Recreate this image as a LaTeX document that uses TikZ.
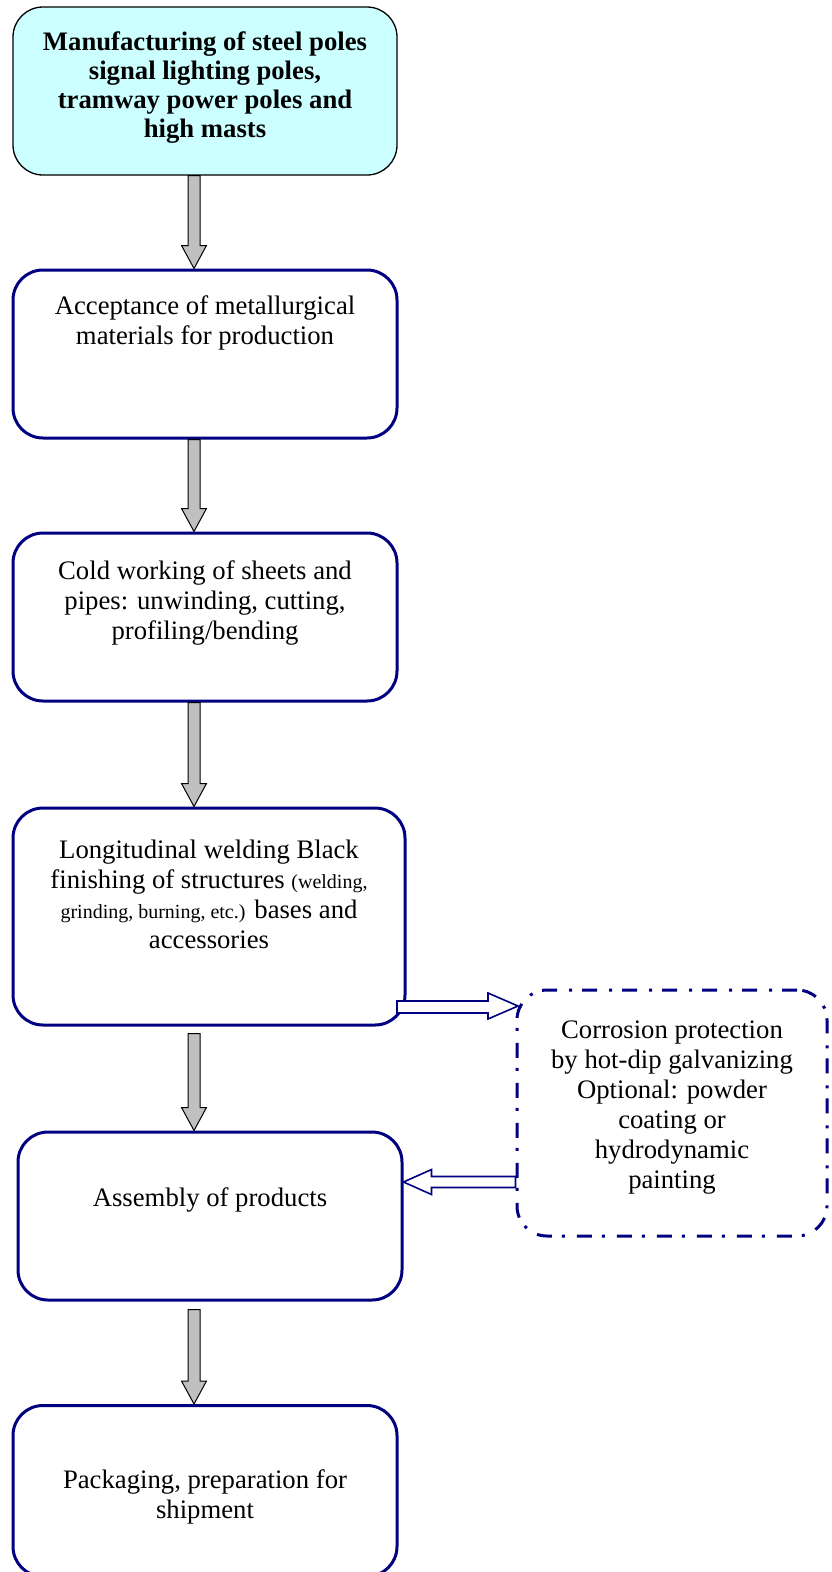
\documentclass[tikz,border=0pt]{standalone}
\usepackage{fontspec}
\setmainfont{Liberation Serif}
\usetikzlibrary{calc}
\definecolor{navyb}{HTML}{000080}
\definecolor{cyanfill}{HTML}{CCFFFF}
\definecolor{arrowgray}{HTML}{C0C0C0}
\begin{document}
\begin{tikzpicture}[x=1pt,y=-1pt,
  stepbox/.style={draw=navyb,line width=3pt,rounded corners=30pt,minimum width=384pt,minimum height=168pt,inner sep=0pt},
  topbox/.style={draw=black,line width=1.3pt,fill=cyanfill,rounded corners=30pt,minimum width=384pt,minimum height=168pt,inner sep=0pt},
  corrbox/.style={draw=navyb,line width=3pt,rounded corners=30pt,minimum width=310pt,minimum height=246pt,inner sep=0pt,
    dash pattern=on 15pt off 10pt on 3pt off 12pt},
  txt/.style={align=center,font=\fontsize{26.7}{30}\selectfont,inner sep=0pt},
  garrow/.style={draw=black,line width=1pt,fill=arrowgray,line join=miter},
  oarrow/.style={draw=navyb,line width=1.6pt,fill=white,line join=miter}
]
\useasboundingbox (0,0) rectangle (831,1572);
\coordinate (ax) at (194,0);

\node[topbox] (b1) at (205,91) {};
\node[stepbox] (b2) at (205,354) {};
\node[stepbox] (b3) at (205,617) {};
\node[stepbox,minimum width=392pt,minimum height=217pt] (b4) at (209,916.5) {};
\node[stepbox] (b5) at (210,1216) {};
\node[stepbox,minimum height=171pt] (b6) at (205,1491) {};
\node[corrbox] (c) at (672,1113) {};

\node[txt,font=\fontsize{26.7}{29}\selectfont\bfseries] (t1) at (205,88) {Manufacturing of steel poles\\signal lighting poles,\\tramway power poles and\\high masts};
\node[txt] (t2) at (205,323) {Acceptance of metallurgical\\materials for production};
\node[txt] (t3) at (205,603) {Cold working of sheets and\\pipes: unwinding, cutting,\\profiling/bending};
\node[txt] (t4) at (209,894) {Longitudinal welding Black\\finishing of structures {\fontsize{20}{30}\selectfont(welding,}\\{\fontsize{20}{30}\selectfont grinding, burning, etc.)} bases and\\accessories};
\node[txt] (t5) at (210,1200) {Assembly of products};
\node[txt] (t6) at (205,1497) {Packaging, preparation for\\shipment};
\node[txt] (tc) at (672,1108) {Corrosion protection\\by hot-dip galvanizing\\Optional: powder\\coating or\\hydrodynamic\\painting};

% gray block arrows
\newcommand{\grayarrow}[3]{%
  \draw[garrow] let \p1=(#1.south -| ax), \p2=(#2.north -| ax) in
    (\x1-6pt,\y1-#3) -- (\x1+6pt,\y1-#3) -- (\x1+6pt,\y2+23pt) -- (\x1+12.5pt,\y2+23pt)
    -- (\x2,\y2) -- (\x1-12.5pt,\y2+23pt) -- (\x1-6pt,\y2+23pt) -- cycle;}
\grayarrow{b1}{b2}{0pt}
\grayarrow{b2}{b3}{0pt}
\grayarrow{b3}{b4}{0pt}
\grayarrow{b4}{b5}{7pt}
\grayarrow{b5}{b6}{8pt}

% open arrows
\coordinate (ra) at (397,1007);
\coordinate (rb) at (518,1006);
\draw[oarrow] let \p1=(ra), \p2=(rb) in
  (\x1,\y1+6pt) -- (\x2-30pt,\y1+6pt) -- (\x2-30pt,\y2+13pt) -- (\x2,\y2)
  -- (\x2-30pt,\y2-13pt) -- (\x2-30pt,\y1-6pt) -- (\x1,\y1-6pt) -- cycle;
\draw[oarrow] let \p1=(c.west), \p2=(b5.east) in
  (\x1,1182*-1pt+5.5pt) -- (\x2+28pt,1182*-1pt+5.5pt) -- (\x2+28pt,1182*-1pt+12.5pt) -- (\x2,1182*-1pt)
  -- (\x2+28pt,1182*-1pt-12.5pt) -- (\x2+28pt,1182*-1pt-5.5pt) -- (\x1,1182*-1pt-5.5pt) -- cycle;
\end{tikzpicture}
\end{document}
